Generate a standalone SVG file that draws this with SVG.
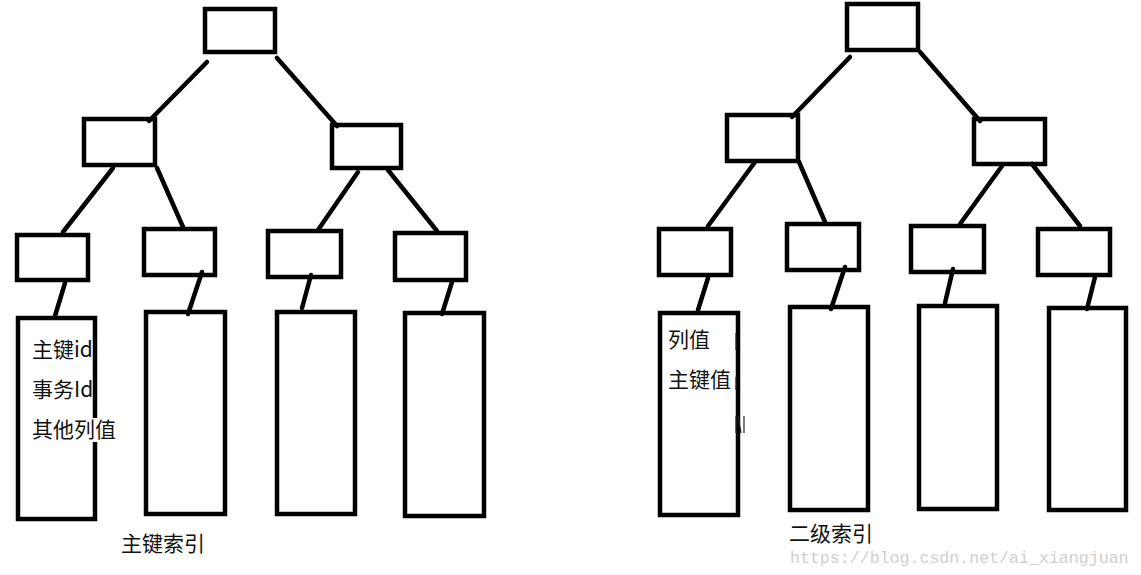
<svg xmlns="http://www.w3.org/2000/svg" width="1141" height="575" viewBox="0 0 1141 575">
<style>
.n{fill:none;stroke:#000;stroke-width:4.5}
.c line{stroke:#000;stroke-width:4.5;stroke-linecap:round}
.t{font-family:"Noto Sans CJK SC","Liberation Sans",sans-serif;font-size:21px;fill:#111}
.w{font-family:"Liberation Mono",monospace;font-size:16.6px;fill:#cfcfcf}
</style>
<rect width="1141" height="575" fill="#fff"/>
<g id="connectors" class="c">
<line x1="207" y1="62" x2="149" y2="121"/>
<line x1="277" y1="58" x2="337" y2="126"/>
<line x1="113" y1="168" x2="63" y2="232"/>
<line x1="157" y1="168" x2="183" y2="227"/>
<line x1="358" y1="172" x2="318" y2="230"/>
<line x1="388" y1="170" x2="437" y2="231"/>
<line x1="65" y1="283" x2="55" y2="316"/>
<line x1="202" y1="272" x2="188" y2="314"/>
<line x1="311" y1="275" x2="302" y2="308"/>
<line x1="452" y1="282" x2="442" y2="314"/>
<line x1="850" y1="57" x2="792" y2="117"/>
<line x1="920" y1="52" x2="980" y2="121"/>
<line x1="755" y1="162" x2="708" y2="226"/>
<line x1="799" y1="162" x2="825" y2="222"/>
<line x1="1002" y1="166" x2="960" y2="224"/>
<line x1="1032" y1="164" x2="1080" y2="226"/>
<line x1="708" y1="278" x2="698" y2="310"/>
<line x1="845" y1="267" x2="831" y2="309"/>
<line x1="953" y1="269" x2="945" y2="303"/>
<line x1="1095" y1="277" x2="1087" y2="309"/>
</g>
<g id="L-root"><rect class="n" x="205" y="9" width="70" height="43"/></g>
<g id="L-2a"><rect class="n" x="84" y="119" width="71" height="46"/></g>
<g id="L-2b"><rect class="n" x="332" y="125" width="69" height="43"/></g>
<g id="L-3a"><rect class="n" x="17" y="235" width="71" height="45"/></g>
<g id="L-3b"><rect class="n" x="144" y="229" width="71" height="46"/></g>
<g id="L-3c"><rect class="n" x="268" y="231" width="73" height="46"/></g>
<g id="L-3d"><rect class="n" x="395" y="233" width="71" height="47"/></g>
<g id="L-leaf1">
<rect class="n" x="18" y="318" width="77" height="201"/>
<rect x="91" y="418" width="30" height="24" fill="#fff"/>
<text class="t" x="32" y="357">主键id</text>
<text class="t" x="32" y="397">事务Id</text>
<text class="t" x="32" y="437">其他列值</text>
</g>
<g id="L-leaf2"><rect class="n" x="146" y="312" width="79" height="202"/></g>
<g id="L-leaf3"><rect class="n" x="277" y="312" width="78" height="202"/></g>
<g id="L-leaf4"><rect class="n" x="405" y="313" width="79" height="203"/></g>
<g id="L-label"><text class="t" x="121" y="551">主键索引</text></g>
<g id="R-root"><rect class="n" x="847" y="4" width="71" height="46"/></g>
<g id="R-2a"><rect class="n" x="727" y="115" width="71" height="46"/></g>
<g id="R-2b"><rect class="n" x="974" y="119" width="71" height="45"/></g>
<g id="R-3a"><rect class="n" x="659" y="229" width="72" height="46"/></g>
<g id="R-3b"><rect class="n" x="787" y="224" width="72" height="46"/></g>
<g id="R-3c"><rect class="n" x="911" y="226" width="73" height="46"/></g>
<g id="R-3d"><rect class="n" x="1038" y="229" width="72" height="46"/></g>
<g id="R-leaf1">
<rect class="n" x="660" y="313" width="78" height="202"/>
<text class="t" x="668" y="347">列值</text>
<text class="t" x="668" y="387">主键值</text>
<path d="M736 333V350M736 377V390M736 416V433M738 416L741 433M744 416V433" stroke="#222" stroke-width="1.2" fill="none"/>
</g>
<g id="R-leaf2"><rect class="n" x="790" y="307" width="78" height="203"/></g>
<g id="R-leaf3"><rect class="n" x="919" y="306" width="78" height="203"/></g>
<g id="R-leaf4"><rect class="n" x="1049" y="308" width="77" height="202"/></g>
<g id="R-label"><text class="t" x="789" y="541">二级索引</text></g>
<text class="w" x="790" y="563">https://blog.csdn.net/ai_xiangjuan</text>
</svg>
